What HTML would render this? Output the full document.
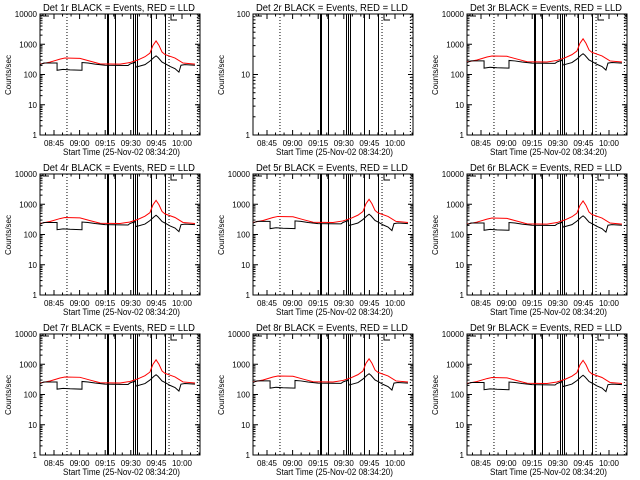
<!DOCTYPE html>
<html><head><meta charset="utf-8"><style>
html,body{margin:0;padding:0;background:#fff}
svg{display:block}
text{font-family:"Liberation Sans",sans-serif;fill:#000}
</style></head><body>
<svg id="c" width="640" height="480" xmlns="http://www.w3.org/2000/svg"></svg>
<script>
// minutes after 08:30
const blackT=[6.8,9.1,13.2,16.8,16.8,20.3,24.4,31.4,31.4,34.9,39.0,44.9,58.4,59.5,61.9,62.5,63.0,68.3,71.2,73.6,74.8,75.9,78.3,80.0,83.0,85.9,88.2,89.4,91.7,97.6];
const blackV=[230,260,260,260,150,160,155,150,270,260,240,220,215,240,270,280,190,230,300,400,450,400,280,250,200,170,130,220,230,220];
const redT=[6.8,12.7,18.5,21.4,30.2,36.1,42.0,53.7,59.5,64.2,68.3,71.2,73.0,74.8,76.5,78.3,80.0,85.9,90.6,97.6];
const redV=[240,280,350,380,370,300,245,240,270,330,420,550,1000,1400,1000,600,500,380,260,240];
const solidLines=[46.1,46.7,50.7,61.3,62.5,63.6,71.8,80.0];
const dottedLines=[22.6,82.4,99];
const timeTicks=[15,30,45,60,75,90];
const timeLabels=["08:45","09:00","09:15","09:30","09:45","10:00"];
const detectors=["1r","2r","3r","4r","5r","6r","7r","8r","9r"];
const NS="http://www.w3.org/2000/svg";
const svg=document.getElementById('c');
function mk(tag,at,parent){const e=document.createElementNS(NS,tag);for(const k in at)e.setAttribute(k,at[k]);(parent||svg).appendChild(e);return e;}
detectors.forEach((d,i)=>{
  const ox=Math.round((i%3)*213.3), oy=Math.floor(i/3)*160;
  const g=mk('g',{transform:`translate(${ox},${oy})`});
  
  
  const L=40,R=200,T=14,B=135;
  const empty=(d==="2r");
  const ymaxDec=empty?2:4;
  const x=t=>54+(t-15)*128/75;
  const y=v=>B-(Math.log10(v))*(B-T)/ymaxDec;
  const t1=mk('text',{x:43,y:11,'font-size':10,textLength:152,lengthAdjust:'spacingAndGlyphs'},g);
  t1.textContent=`Det ${d} BLACK = Events, RED = LLD`;
  
  
  const fr=mk('rect',{x:L,y:T,width:R-L,height:B-T,fill:'none',stroke:'#000','stroke-width':1},g);
  
  
  for(let dec=0;dec<=ymaxDec;dec++){
    const v=Math.pow(10,dec), yy=y(v);
    mk('line',{x1:L,x2:L+5,y1:yy,y2:yy,stroke:'#000'},g);
    mk('line',{x1:R-5,x2:R,y1:yy,y2:yy,stroke:'#000'},g);
    const lb=mk('text',{x:L-3,y:yy+3,'font-size':8,'text-anchor':'end'},g);
    lb.textContent=String(v);
    
    
    if(dec<ymaxDec)for(let m=2;m<10;m++){const ym=y(v*m);
      mk('line',{x1:L,x2:L+2.5,y1:ym,y2:ym,stroke:'#000'},g);
      mk('line',{x1:R-2.5,x2:R,y1:ym,y2:ym,stroke:'#000'},g);}
  }
  const yl=mk('text',{x:11,y:75,'font-size':8,'text-anchor':'middle',transform:'rotate(-90 11 75)'},g);
  yl.textContent='Counts/sec';
  
  
  for(let t=10;t<=100;t+=5){const xx=x(t);if(xx<L||xx>R)continue;const len=timeTicks.includes(t)?5:2.5;
    mk('line',{x1:xx,x2:xx,y1:B,y2:B-len,stroke:'#000'},g);
    mk('line',{x1:xx,x2:xx,y1:T,y2:T+len,stroke:'#000'},g);}
  timeTicks.forEach((t,k)=>{const lb=mk('text',{x:x(t),y:146,'font-size':8,'text-anchor':'middle'},g);
    lb.textContent=timeLabels[k];
    
    });
  const xl=mk('text',{x:63,y:155,'font-size':9,textLength:117,lengthAdjust:'spacingAndGlyphs'},g);
  xl.textContent='Start Time (25-Nov-02 08:34:20)';
  
  
  dottedLines.forEach(t=>{const l=mk('line',{x1:x(t),x2:x(t),y1:T,y2:B,stroke:'#000','stroke-dasharray':'1,2'},g);
    
    });
  solidLines.forEach(t=>{const l=mk('line',{x1:Math.round(x(t))+0.5,x2:Math.round(x(t))+0.5,y1:T,y2:B,stroke:'#000','stroke-width':1},g);
    
    });
  mk('path',{d:`M43 14 V16 M43 16 H49 M${x(50.7)} 14 V19 M${x(71.8)} 14 V18 M171 14 V20 H177`,stroke:'#000',fill:'none'},g);
  if(!empty){
    const s=1+((i*7)%5-2)*0.04;
    const rp=mk('polyline',{points:redT.map((t,k)=>x(t)+','+y(redV[k]*s)).join(' '),fill:'none',stroke:'#ff0000','stroke-width':1},g);
    
    
    const bp=mk('polyline',{points:blackT.map((t,k)=>x(t)+','+y(blackV[k]*s)).join(' '),fill:'none',stroke:'#000','stroke-width':1},g);
    
    
  }
});
</script>
</body></html>
